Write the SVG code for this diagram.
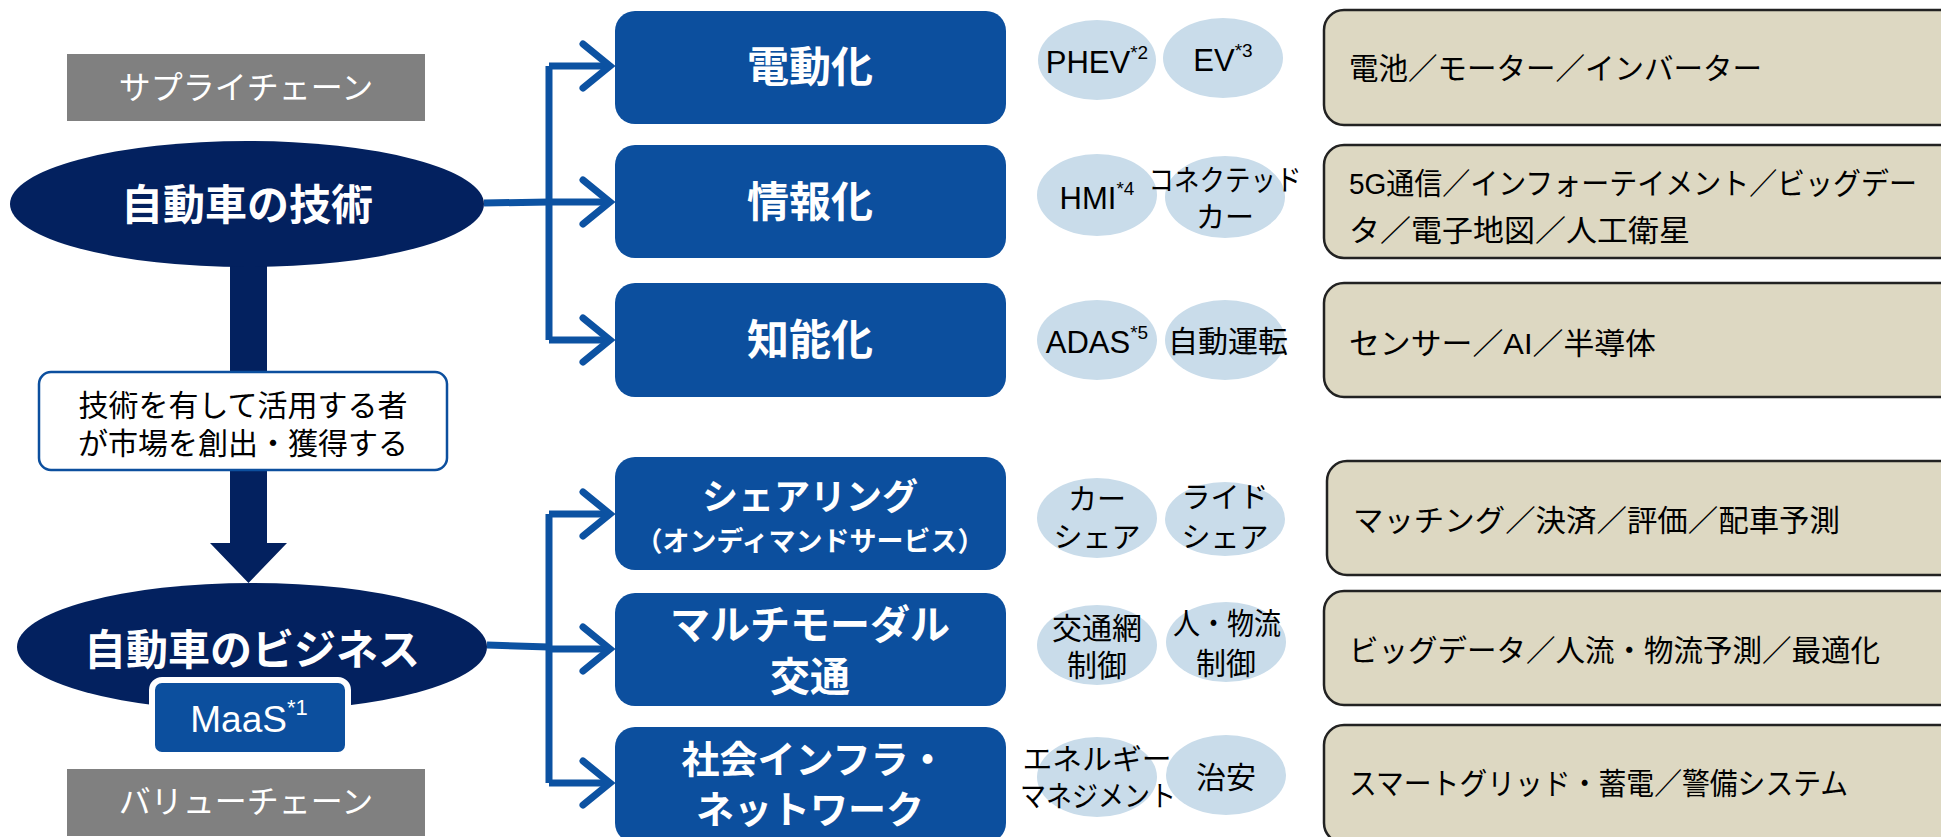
<svg xmlns="http://www.w3.org/2000/svg" width="1941" height="837" viewBox="0 0 1941 837">
<defs>
<style>
text{font-family:"Liberation Sans","Noto Sans CJK JP",sans-serif;dominant-baseline:central;text-anchor:middle}
.gray{fill:#808080}
.gt{fill:#fff;font-size:32px}
.ell{fill:#03215f}
.et{fill:#fff;font-size:42px;font-weight:bold}
.bb{fill:#0c4f9e}
.bt{fill:#fff;font-weight:bold}
.cir{fill:#c9dcea}
.ct{fill:#000;font-size:29px}
.tan{fill:#ddd8c2;stroke:#222;stroke-width:2.5}
.tt{fill:#000;font-size:30px;text-anchor:start}
.con{fill:none;stroke:#0c52a2;stroke-width:7}
.chev{fill:none;stroke:#0c52a2;stroke-width:7;stroke-linecap:round}
</style>
</defs>
<rect width="1941" height="837" fill="#fff"/>

<g id="connectors">
<path class="con" d="M484,203 L549,202"/>
<path class="con" d="M549,66 L549,340"/>
<path class="con" d="M549,66 L610,66 M549,202 L610,202 M549,340 L610,340"/>
<path class="chev" d="M583,44 L610,66 L583,88 M583,180 L610,202 L583,224 M583,318 L610,340 L583,362"/>
<path class="con" d="M487,645 L549,647"/>
<path class="con" d="M549,514 L549,783"/>
<path class="con" d="M549,514 L610,514 M549,649 L610,649 M549,783 L610,783"/>
<path class="chev" d="M583,492 L610,514 L583,536 M583,627 L610,649 L583,671 M583,761 L610,783 L583,805"/>
<rect x="230" y="262" width="37" height="112" fill="#03215f"/>
<path d="M230,468 L267,468 L267,543 L287,543 L248.5,583 L210,543 L230,543 Z" fill="#03215f"/>
</g>

<g id="supply-chain">
<rect class="gray" x="67" y="54" width="358" height="67"/>
<text class="gt" x="246" y="88">サプライチェーン</text>
</g>

<g id="tech">
<ellipse class="ell" cx="247" cy="204" rx="237" ry="63"/>
<text class="et" x="247" y="205">自動車の技術</text>
</g>

<g id="statement">
<rect x="39" y="372" width="408" height="98" rx="12" fill="#fff" stroke="#0c4f9e" stroke-width="2.5"/>
<text x="243" y="405" style="font-size:30px;fill:#000">技術を有して活用する者</text>
<text x="243" y="443" style="font-size:30px;fill:#000">が市場を創出・獲得する</text>
</g>

<g id="business">
<ellipse class="ell" cx="252" cy="647" rx="235" ry="64"/>
<text class="et" x="252" y="650">自動車のビジネス</text>
</g>

<g id="maas">
<rect x="152" y="680" width="196" height="75" rx="10" fill="#0c4f9e" stroke="#fff" stroke-width="6"/>
<text x="249" y="719" style="fill:#fff;font-size:37px">MaaS<tspan style="font-size:22px" dy="-12">*1</tspan></text>
</g>

<g id="value-chain">
<rect class="gray" x="67" y="769" width="358" height="67"/>
<text class="gt" x="246" y="802">バリューチェーン</text>
</g>

<g id="electrification">
<rect class="bb" x="615" y="11" width="391" height="113" rx="20"/>
<text class="bt" x="810" y="67" style="font-size:42px">電動化</text>
</g>
<g id="informatization">
<rect class="bb" x="615" y="145" width="391" height="113" rx="20"/>
<text class="bt" x="810" y="202" style="font-size:42px">情報化</text>
</g>
<g id="intelligence">
<rect class="bb" x="615" y="283" width="391" height="114" rx="20"/>
<text class="bt" x="810" y="340" style="font-size:42px">知能化</text>
</g>
<g id="sharing">
<rect class="bb" x="615" y="457" width="391" height="113" rx="20"/>
<text class="bt" x="810" y="497" style="font-size:36px">シェアリング</text>
<text class="bt" x="810" y="542" style="font-size:27px">（オンディマンドサービス）</text>
</g>
<g id="multimodal">
<rect class="bb" x="615" y="593" width="391" height="113" rx="20"/>
<text class="bt" x="810" y="625" style="font-size:40px">マルチモーダル</text>
<text class="bt" x="810" y="677" style="font-size:40px">交通</text>
</g>
<g id="infra">
<rect class="bb" x="615" y="727" width="391" height="116" rx="20"/>
<text class="bt" x="814" y="760" style="font-size:38px">社会インフラ・</text>
<text class="bt" x="810" y="810" style="font-size:38px">ネットワーク</text>
</g>

<g id="c-phev">
<ellipse class="cir" cx="1097" cy="60" rx="59" ry="40"/>
<text class="ct" x="1097" y="62" style="font-size:31px">PHEV<tspan style="font-size:19px" dy="-10">*2</tspan></text>
</g>
<g id="c-ev">
<ellipse class="cir" cx="1223" cy="58" rx="60" ry="40"/>
<text class="ct" x="1223" y="60" style="font-size:31px">EV<tspan style="font-size:19px" dy="-10">*3</tspan></text>
</g>
<g id="c-hmi">
<ellipse class="cir" cx="1097" cy="195" rx="60" ry="41"/>
<text class="ct" x="1097" y="198" style="font-size:31px">HMI<tspan style="font-size:19px" dy="-10">*4</tspan></text>
</g>
<g id="c-connected">
<ellipse class="cir" cx="1225" cy="197" rx="60" ry="41"/>
<text class="ct" x="1225" y="181" textLength="153" lengthAdjust="spacingAndGlyphs">コネクテッド</text>
<text class="ct" x="1225" y="218">カー</text>
</g>
<g id="c-adas">
<ellipse class="cir" cx="1097" cy="340" rx="60" ry="40"/>
<text class="ct" x="1097" y="342" style="font-size:31px">ADAS<tspan style="font-size:19px" dy="-10">*5</tspan></text>
</g>
<g id="c-autodrive">
<ellipse class="cir" cx="1225" cy="340" rx="60" ry="40"/>
<text class="ct" x="1228" y="341" style="font-size:30px">自動運転</text>
</g>
<g id="c-carshare">
<ellipse class="cir" cx="1097" cy="518" rx="60" ry="40"/>
<text class="ct" x="1097" y="500">カー</text>
<text class="ct" x="1097" y="538">シェア</text>
</g>
<g id="c-rideshare">
<ellipse class="cir" cx="1225" cy="519" rx="60" ry="37"/>
<text class="ct" x="1225" y="498">ライド</text>
<text class="ct" x="1225" y="538">シェア</text>
</g>
<g id="c-network">
<ellipse class="cir" cx="1097" cy="645" rx="60" ry="40"/>
<text class="ct" x="1097" y="628" style="font-size:30px">交通網</text>
<text class="ct" x="1097" y="665" style="font-size:30px">制御</text>
</g>
<g id="c-people">
<ellipse class="cir" cx="1226" cy="642" rx="60" ry="40"/>
<text class="ct" x="1227" y="623" style="font-size:30px" textLength="108" lengthAdjust="spacingAndGlyphs">人・物流</text>
<text class="ct" x="1226" y="663" style="font-size:30px">制御</text>
</g>
<g id="c-energy">
<ellipse class="cir" cx="1097" cy="777" rx="60" ry="40"/>
<text class="ct" x="1097" y="760" textLength="149" lengthAdjust="spacingAndGlyphs">エネルギー</text>
<text class="ct" x="1098" y="797" textLength="156" lengthAdjust="spacingAndGlyphs">マネジメント</text>
</g>
<g id="c-security">
<ellipse class="cir" cx="1226" cy="775" rx="60" ry="40"/>
<text class="ct" x="1226" y="777" style="font-size:30px">治安</text>
</g>

<g id="t-electrification">
<rect class="tan" x="1324" y="10" width="640" height="115" rx="20"/>
<text class="tt" x="1349" y="68" textLength="413" lengthAdjust="spacingAndGlyphs">電池／モーター／インバーター</text>
</g>
<g id="t-informatization">
<rect class="tan" x="1324" y="145" width="640" height="113" rx="20"/>
<text class="tt" x="1349" y="183" textLength="568" lengthAdjust="spacingAndGlyphs">5G通信／インフォーテイメント／ビッグデー</text>
<text class="tt" x="1349" y="230" textLength="341" lengthAdjust="spacingAndGlyphs">タ／電子地図／人工衛星</text>
</g>
<g id="t-intelligence">
<rect class="tan" x="1324" y="283" width="640" height="114" rx="20"/>
<text class="tt" x="1349" y="343" textLength="307" lengthAdjust="spacingAndGlyphs">センサー／AI／半導体</text>
</g>
<g id="t-sharing">
<rect class="tan" x="1327" y="461" width="640" height="114" rx="20"/>
<text class="tt" x="1353" y="520" textLength="487" lengthAdjust="spacingAndGlyphs">マッチング／決済／評価／配車予測</text>
</g>
<g id="t-multimodal">
<rect class="tan" x="1324" y="591" width="640" height="114" rx="20"/>
<text class="tt" x="1349" y="650" textLength="531" lengthAdjust="spacingAndGlyphs">ビッグデータ／人流・物流予測／最適化</text>
</g>
<g id="t-infra">
<rect class="tan" x="1324" y="725" width="640" height="118" rx="20"/>
<text class="tt" x="1349" y="783" textLength="499" lengthAdjust="spacingAndGlyphs">スマートグリッド・蓄電／警備システム</text>
</g>
</svg>
